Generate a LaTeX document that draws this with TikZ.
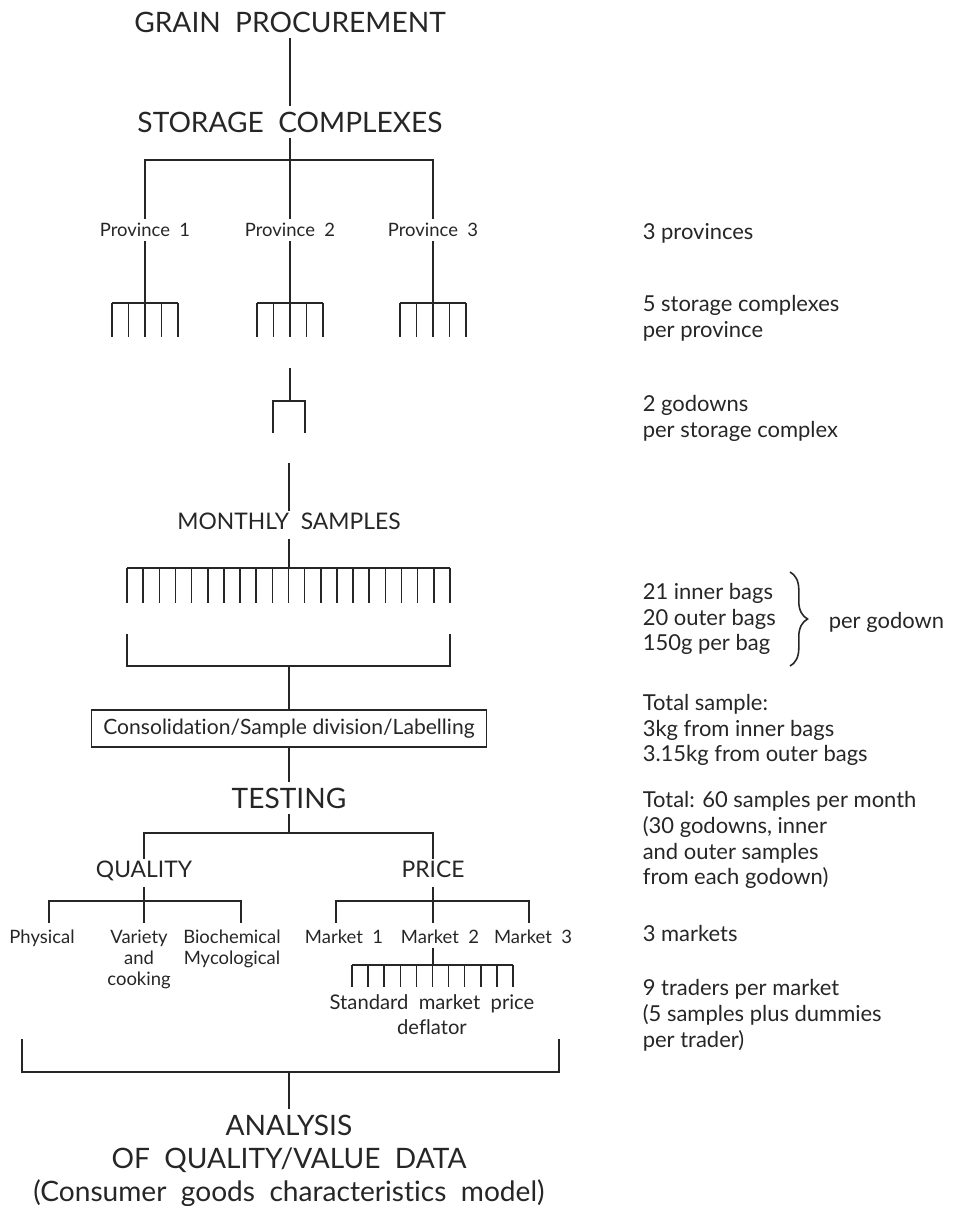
\documentclass[tikz,border=0pt]{standalone}
\usepackage{fontspec}
\setmainfont{Lato}[Ligatures=NoCommon]
\usetikzlibrary{decorations.pathreplacing}

\begin{document}
\begin{tikzpicture}[x=0.02cm, y=-0.02cm, line width=0.9pt, color={black!85},
  big/.style={font=\fontsize{16}{19}\selectfont, inner sep=3pt},
  mid/.style={font=\fontsize{13}{15}\selectfont, inner sep=3pt, text height=0.75em, text depth=0.2em},
  small/.style={font=\fontsize{10.5}{11.9}\selectfont, inner sep=2pt, align=center},
  tail/.style={font=\fontsize{16}{18.7}\selectfont, inner sep=3pt, align=center},
  note/.style={font=\fontsize{12.5}{14.7}\selectfont, inner sep=0pt, align=left, anchor=west},
  box/.style={rectangle, draw, minimum width=7.9cm, minimum height=0.74cm, font=\fontsize{12}{14}\selectfont}]
\useasboundingbox (0,0) rectangle (957,1206);

\node at (290, 22) (grain) [big] {GRAIN\ \ PROCUREMENT};
\node at (290,122) (storage) [big] {STORAGE\ \ COMPLEXES};
\node at (145,230) (p1) [small] {Province\ \ 1};
\node at (290,230) (p2) [small] {Province\ \ 2};
\node at (433,230) (p3) [small] {Province\ \ 3};
\coordinate (sc) at (290,160);
\draw (grain) -- (storage);
\draw (storage) -- (sc);
\draw (sc) -| (p1);
\draw (sc) -| (p3);
\draw (sc) -- (p2);

\coordinate (c1) at (145,303);
\coordinate (c2) at (290,303);
\coordinate (c3) at (433,303);
\draw (p1) -- (c1);
\draw (p2) -- (c2);
\draw (p3) -- (c3);
\foreach \x in {145,290,433} {
  \draw (\x-33,303) -- (\x+33,303);
  \foreach \d in {-33,-16.5,0,16.5,33} \draw (\x+\d,303) -- (\x+\d,337);
}

\coordinate (gtop) at (290,368);
\coordinate (gd) at (290,401);
\draw (gtop) -- (gd);
\draw (273,433) |- (gd) -| (305,433);

\node at (289,525) (monthly) [mid] {MONTHLY\ \ SAMPLES};
\coordinate (mtop) at (289,463);
\coordinate (mc) at (289,568);
\draw (mtop) -- (monthly);
\draw (monthly) -- (mc);
\draw (127,568) -- (450,568);
\foreach \i in {0,...,20} \draw ({127+\i*16.15},568) -- ++(0,35);

\coordinate (bc) at (289,666);
\draw (127,634) |- (bc) -| (450,634);
\node at (289,728.5) (cons) [box] {Consolidation/Sample\ division/Labelling};
\draw (bc) -- (cons);

\node at (289,798) (testing) [big] {TESTING};
\coordinate (tc) at (289,833);
\draw (cons) -- (testing);
\draw (testing) -- (tc);
\node at (144,873) (quality) [mid] {QUALITY};
\node at (433,873) (price) [mid] {PRICE};
\draw (tc) -| (quality);
\draw (tc) -| (price);

% quality branch
\coordinate (qc) at (144,901);
\coordinate (qa) at (49,923);
\coordinate (qb) at (144,923);
\coordinate (qd) at (241,923);
\draw (quality) -- (qb);
\draw (qa) |- (qc) -| (qd);
\node at (42,926) (phys) [small, anchor=north] {Physical};
\node at (139,926) (variety) [small, anchor=north] {Variety\\and\\cooking};
\node at (232,926) (bio) [small, anchor=north] {Biochemical\\Mycological};

% price branch
\coordinate (pc) at (433,901);
\coordinate (pa) at (336,923);
\coordinate (pb) at (433,923);
\coordinate (pd) at (529,923);
\draw (price) -- (pb);
\draw (pa) |- (pc) -| (pd);
\node at (344,937) (m1) [small] {Market\ \ 1};
\node at (440,937) (m2) [small] {Market\ \ 2};
\node at (533,937) (m3) [small] {Market\ \ 3};
\coordinate (dc) at (433,965);
\draw (m2.south -| dc) -- (dc);
\draw (352,965) -- (513,965);
\foreach \i in {0,...,10} \draw ({352+\i*16.1},965) -- ++(0,22);
\node at (432,1015) (deflator) [small, font=\fontsize{11.5}{14.2}\selectfont] {Standard\ \ market\ \ price\\deflator};

\coordinate (ac) at (289,1072);
\draw (22,1039) |- (ac) -| (559,1039);
\node at (289,1161) (analysis) [tail] {ANALYSIS\\OF\ \ QUALITY/VALUE\ \ DATA\\(Consumer\ \ goods\ \ characteristics\ \ model)};
\draw (ac) -- (analysis);

% notes on the right
\node at (642,233) (n1) [note] {3 provinces};
\node at (642,318.5) (n2) [note] {5 storage complexes\\per province};
\node at (642,418.5) (n3) [note] {2 godowns\\per storage complex};
\node at (642,619) (n4) [note] {21 inner bags\\20 outer bags\\150g per bag};
\node at (828,622) (n5) [note] {per godown};
\draw [decorate, decoration={brace, amplitude=10pt}] (790,572) -- (790,666);
\node at (642,730) (n6) [note] {Total sample:\\3kg from inner bags\\3.15kg from outer bags};
\node at (642,840) (n7) [note] {Total: 60 samples per month\\(30 godowns, inner\\and outer samples\\from each godown)};
\node at (642,933) (n8) [note] {3 markets};
\node at (642,1015) (n9) [note] {9 traders per market\\(5 samples plus dummies\\per trader)};
\end{tikzpicture}
\end{document}
